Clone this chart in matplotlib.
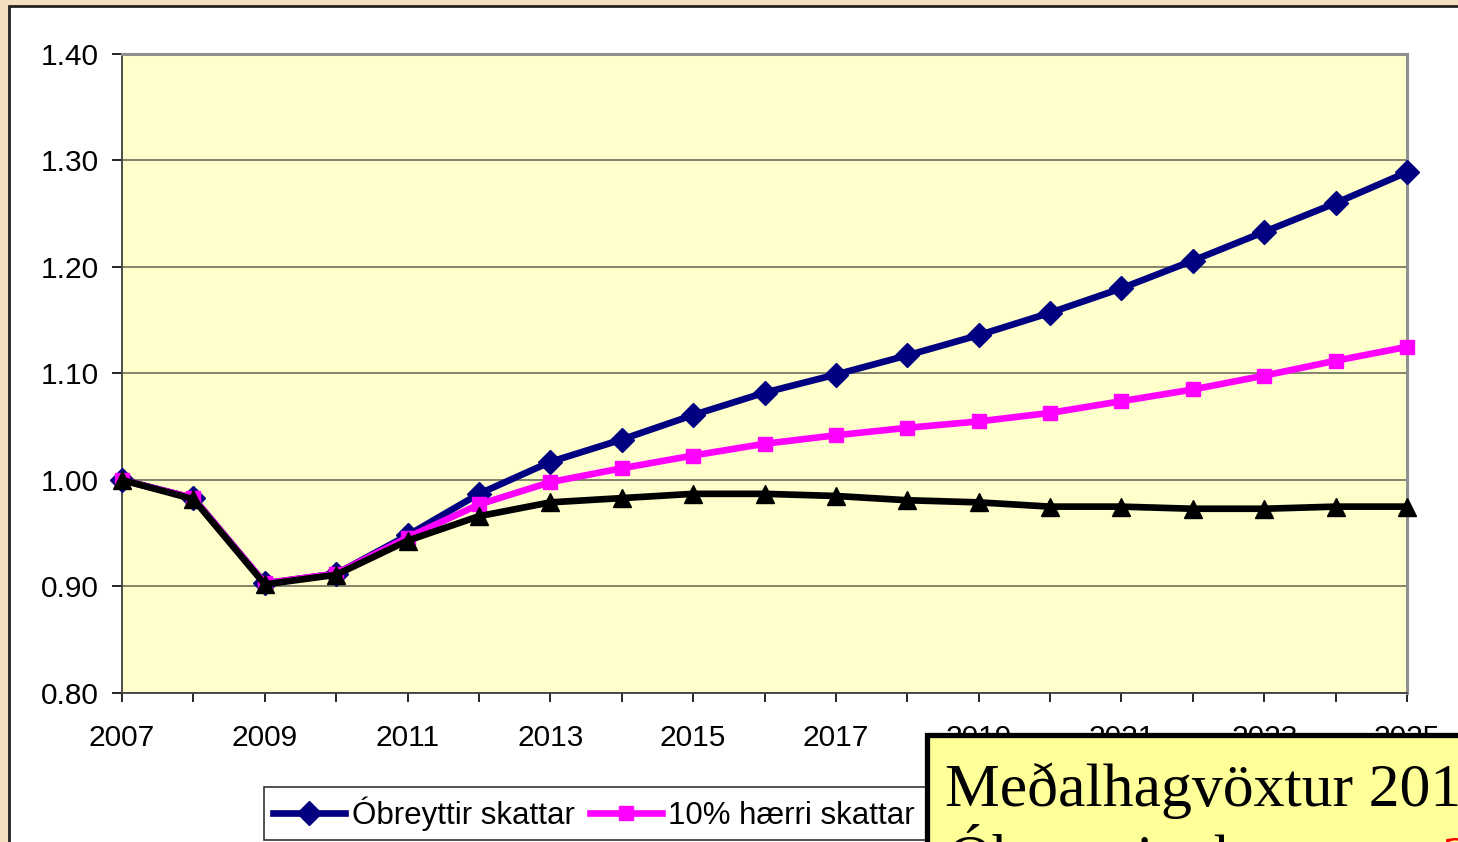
import numpy as np
import matplotlib
matplotlib.use("Agg")
import matplotlib.pyplot as plt
from matplotlib.patches import Rectangle
from matplotlib.ticker import MultipleLocator, FormatStrFormatter

# data
years = list(range(2007, 2026))
obreyttir = [1.000, 0.983, 0.903, 0.912, 0.948, 0.987, 1.017, 1.038, 1.061, 1.082,
             1.099, 1.117, 1.136, 1.157, 1.180, 1.206, 1.233, 1.260, 1.289]
haerri10 = [1.000, 0.983, 0.903, 0.912, 0.946, 0.977, 0.998, 1.011, 1.023, 1.034,
            1.042, 1.049, 1.055, 1.063, 1.074, 1.085, 1.098, 1.112, 1.125]
haerri20 = [1.000, 0.982, 0.902, 0.911, 0.943, 0.966, 0.979, 0.983, 0.987, 0.987,
            0.985, 0.981, 0.979, 0.975, 0.975, 0.973, 0.973, 0.975, 0.975]
labels = ["Óbreyttir skattar", "10% hærri skattar", "20% hærri skattar"]

W, H = 1458, 842
fig = plt.figure(figsize=(W / 100, H / 100), dpi=100, facecolor="#F4E0C0")
plt.rcParams["font.family"] = ["Liberation Sans", "DejaVu Sans"]

def px(x, y):
    return x / W, 1 - y / H

# white chart panel with dark frame
x0, y0 = px(9, 6)
fig.add_artist(Rectangle((x0, -0.2), 1.2, y0 + 0.2, transform=fig.transFigure,
                         facecolor="white", edgecolor="#222222", lw=2, zorder=-1))

left, top = px(122, 54)
right, bottom = px(1407, 693)
ax = fig.add_axes([left, bottom, right - left, top - bottom])
ax.set_facecolor("#FFFFCC")

ax.plot(years, obreyttir, color="#000080", lw=4.8, marker="D", ms=12.5, label=labels[0], zorder=3)
ax.plot(years, haerri10, color="#FF00FF", lw=4.8, marker="s", ms=10.5, label=labels[1], zorder=4)
ax.plot(years, haerri20, color="black", lw=4.8, marker="^", ms=12.5, label=labels[2], zorder=5)

ax.set_xlim(2007, 2025)
ax.set_ylim(0.8, 1.4)
ax.set_xticks(years[::2])
ax.xaxis.set_minor_locator(MultipleLocator(1))
ax.yaxis.set_major_locator(MultipleLocator(0.1))
ax.yaxis.set_major_formatter(FormatStrFormatter("%.2f"))
ax.grid(axis="y", color="#6e6e5a", lw=1.2)
ax.set_axisbelow(True)
ax.tick_params(axis="x", which="both", direction="out", length=6.5, width=1.2, pad=16, labelsize=21.5)
ax.tick_params(axis="y", direction="out", length=7, width=1.2, pad=10, labelsize=21.5)
for s in ["top", "right"]:
    ax.spines[s].set_color("#909090")
    ax.spines[s].set_linewidth(2.2)
for s in ["left", "bottom"]:
    ax.spines[s].set_color("#404040")
    ax.spines[s].set_linewidth(1.3)
for ln in ax.lines:
    ln.set_clip_on(False)

leg = fig.legend(loc="upper left", bbox_to_anchor=px(264, 787), ncol=3, fontsize=22.5,
                 frameon=True, fancybox=False, edgecolor="black", borderaxespad=0,
                 handlelength=2.3, handletextpad=0.2, columnspacing=0.5, borderpad=0.3)
leg.get_frame().set_linewidth(1.2)

# overlaid yellow text box
bx, by = px(927, 735)
fig.add_artist(Rectangle((bx, -0.2), 0.5, by + 0.2, transform=fig.transFigure,
                         facecolor="#FFFF99", edgecolor="black", lw=3.8, zorder=10))
fig.text(*px(945, 806), "Meðalhagvöxtur 2011-2025", family="Liberation Serif",
         fontsize=44.5, va="baseline", zorder=11)
fig.text(*px(948, 877), "Óbreyttir skattar:", family="Liberation Serif",
         fontsize=44.5, va="baseline", zorder=11)
fig.text(*px(1441, 877), "2,5%", family="Liberation Serif", color="red",
         fontsize=44.5, va="baseline", zorder=11)

fig.savefig("out.png", dpi=100, facecolor=fig.get_facecolor())
